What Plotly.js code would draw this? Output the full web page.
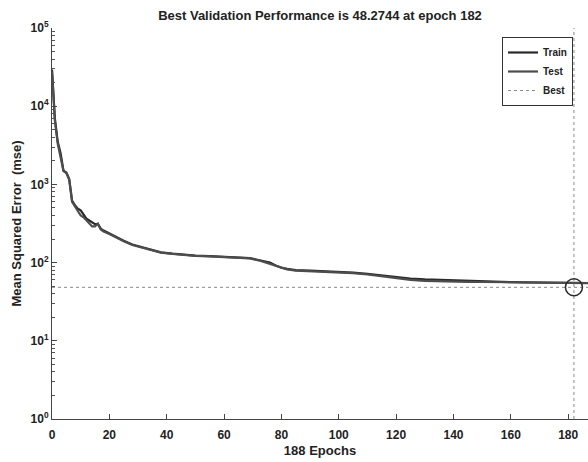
<!DOCTYPE html>
<html>
<head>
<meta charset="utf-8">
<script src="https://cdn.plot.ly/plotly-3.0.1.min.js"></script>
<style>html,body{margin:0;padding:0;background:#fff;}#chart{width:588px;height:462px;}</style>
</head>
<body>
<div id="chart"></div>
<script>
// ---- data ----
const epochs = [0,1,2,3,4,5,6,7,8,9,10,11,12,13,14,15,16,17,18,20,22,25,28,31,34,38,42,46,50,55,60,65,69,72,74,76,78,80,82,85,90,95,100,105,110,115,120,125,130,135,140,145,150,155,160,165,170,175,180,185,188];
const trainMse = [29500,7000,3500,2500,1500,1420,1170,620,540,490,465,415,365,345,330,310,310,272,257,235,215,190,170,158,147,135,130,126,123,121,119,117,114,108,103,100,92,86,83,80,79,78,77,74.5,71.6,68,65,62.6,61,60,59,58,57,56.6,56.2,55.8,55.5,55.2,55,54.9,54.8];
const testMse  = [28000,6600,3300,2300,1480,1400,1150,600,520,460,400,380,345,310,290,290,316,265,250,232,212,188,168,156,146,134,129,125,122,120,118,116,113,107,101,97,90,85,82,79,78,77,76,73.5,70.5,67,63.5,60,58.5,57.5,57,56.8,56.5,56.2,56,55.7,55.4,55.1,54.9,54.8,54.7];
const bestEpoch = 182;
const bestPerf = 48.2744;
const totalEpochs = 188;
const xTickVals = [0,20,40,60,80,100,120,140,160,180];
const yTickVals = [1,10,100,1000,10000,100000];
const yTickText = ['10<sup>0</sup>','10<sup>1</sup>','10<sup>2</sup>','10<sup>3</sup>','10<sup>4</sup>','10<sup>5</sup>'];
const titleText = 'Best Validation Performance is ' + bestPerf + ' at epoch ' + bestEpoch;

const FONT = 'Liberation Sans, Arial, Helvetica, sans-serif';
const yMin = yTickVals[0], yMax = yTickVals[yTickVals.length - 1];

const traces = [
  {x: epochs, y: trainMse, name: 'Train', mode: 'lines',
   line: {color: '#2a2a2a', width: 2.2}},
  {x: epochs, y: testMse, name: 'Test', mode: 'lines',
   line: {color: '#4d4d4d', width: 2.2}},
  {x: [0, totalEpochs, null, bestEpoch, bestEpoch],
   y: [bestPerf, bestPerf, null, yMin, yMax],
   name: 'Best', mode: 'lines', connectgaps: false,
   line: {color: '#8a8a8a', width: 1, dash: 'dot'}},
  {x: [bestEpoch], y: [bestPerf], mode: 'markers', showlegend: false,
   marker: {symbol: 'circle-open', size: 17, color: '#2a2a2a', line: {width: 1.5, color: '#2a2a2a'}}}
];

const layout = {
  width: 588, height: 462,
  margin: {l: 52, r: 0, t: 28, b: 43, pad: 0},
  paper_bgcolor: '#fff', plot_bgcolor: '#fff',
  font: {family: FONT, color: '#222', size: 12},
  title: {text: titleText, x: 0.5, xref: 'paper', xanchor: 'center',
          y: 1 - 15/462, yref: 'container', yanchor: 'middle',
          font: {family: FONT, size: 13, weight: 'bold', color: '#222'}},
  showlegend: true,
  legend: {x: 0.972, xanchor: 'right', y: 0.977, yanchor: 'top',
           bgcolor: '#fff', bordercolor: '#333', borderwidth: 1,
           font: {family: FONT, size: 10, weight: 'bold', color: '#222'},
           itemwidth: 30, tracegroupgap: 0},
  xaxis: {range: [0, 186.9], tickvals: xTickVals, ticks: 'inside', ticklen: 5,
          tickcolor: '#444', showline: true, linecolor: '#444', linewidth: 1,
          zeroline: false, showgrid: false, mirror: false, ticklabelstandoff: 5,
          tickfont: {family: FONT, size: 12, weight: 'bold', color: '#222'},
          title: {text: '188 Epochs', standoff: 4,
                  font: {family: FONT, size: 13, weight: 'bold', color: '#222'}}},
  yaxis: {type: 'log', range: [0, 5], tickvals: yTickVals, ticktext: yTickText,
          ticks: 'inside', ticklen: 5, tickcolor: '#444',
          minor: {ticks: 'inside', ticklen: 3, tickcolor: '#555', dtick: 'D1'},
          showline: true, linecolor: '#444', linewidth: 1,
          zeroline: false, showgrid: false,
          tickfont: {family: FONT, size: 12, weight: 'bold', color: '#222'},
          title: {text: 'Mean Squared Error  (mse)', standoff: 6,
                  font: {family: FONT, size: 13, weight: 'bold', color: '#222'}}}
};

Plotly.newPlot('chart', traces, layout, {displayModeBar: false, staticPlot: true});
</script>
</body>
</html>
